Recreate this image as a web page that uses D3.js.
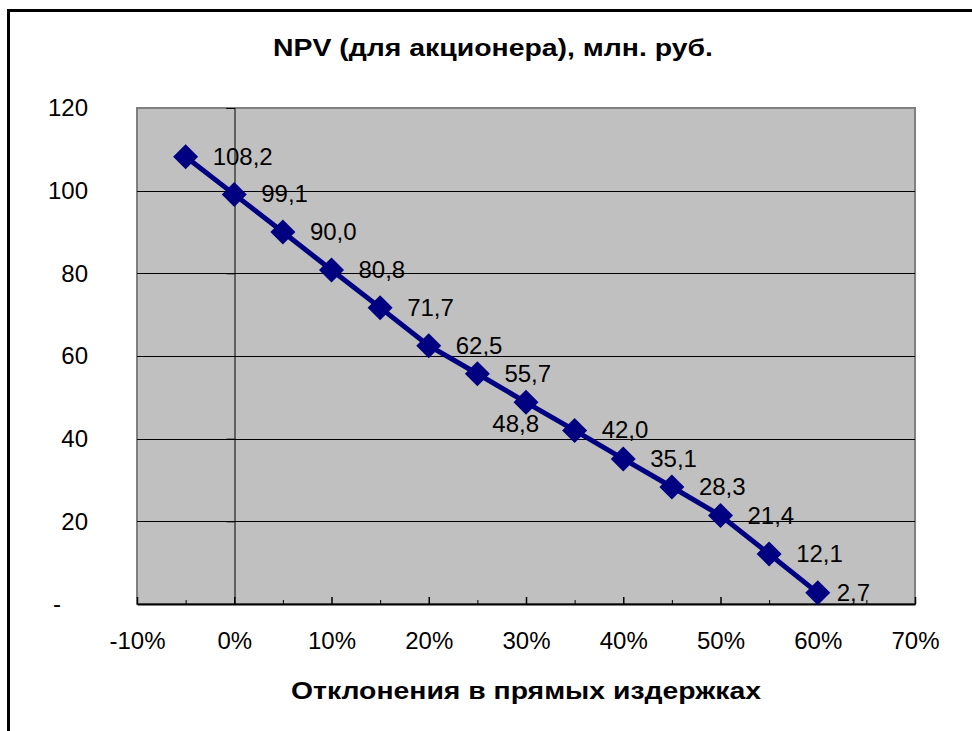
<!DOCTYPE html>
<html>
<head>
<meta charset="utf-8">
<script src="https://cdn.jsdelivr.net/npm/d3@7"></script>
<style>
  body { margin: 0; background: #fff; }
  svg { display: block; font-family: "Liberation Sans", Arial, sans-serif; }
</style>
</head>
<body>
<svg id="chart" width="972" height="731"></svg>
<script>
// Deviation in direct costs (share) and resulting shareholder NPV, mln rub.
const deviations = [-0.05, 0, 0.05, 0.10, 0.15, 0.20, 0.25, 0.30, 0.35, 0.40, 0.45, 0.50, 0.55, 0.60];
const npv = [108.2, 99.1, 90.0, 80.8, 71.7, 62.5, 55.7, 48.8, 42.0, 35.1, 28.3, 21.4, 12.1, 2.7];
const xTicks = [-0.1, 0, 0.1, 0.2, 0.3, 0.4, 0.5, 0.6, 0.7];
const xMinorTicks = [-0.05, 0.05, 0.15, 0.25, 0.35, 0.45, 0.55, 0.65];
const yTicks = [0, 20, 40, 60, 80, 100, 120];
const chartTitle = "NPV (для акционера), млн. руб.";
const xAxisTitle = "Отклонения в прямых издержках";

const svg = d3.select("#chart");
const plot = { left: 137, right: 915, top: 108, bottom: 604 };
const numFont = 24;

const x = d3.scaleLinear().domain([-0.1, 0.7]).range([plot.left, plot.right]);
const y = d3.scaleLinear().domain([0, 120]).range([plot.bottom, plot.top]);

// percent with a plain hyphen for negatives
const fmtPct = v => `${Math.round(v * 100)}%`;
const fmtVal = v => d3.format(".1f")(v).replace(".", ",");

// outer chart frame (runs past the right and bottom edges)
svg.append("rect")
  .attr("x", 8.5).attr("y", 10.5)
  .attr("width", 1000).attr("height", 760)
  .attr("fill", "#fff").attr("stroke", "#000").attr("stroke-width", 3);

// plot area
svg.append("rect")
  .attr("x", plot.left).attr("y", plot.top)
  .attr("width", plot.right - plot.left).attr("height", plot.bottom - plot.top)
  .attr("fill", "#C0C0C0").attr("stroke", "#808080").attr("stroke-width", 2);

// horizontal gridlines
svg.append("g").selectAll("line")
  .data(yTicks.filter(d => d > 0 && d < 120))
  .join("line")
  .attr("x1", plot.left).attr("x2", plot.right)
  .attr("y1", d => Math.round(y(d)) + 0.5).attr("y2", d => Math.round(y(d)) + 0.5)
  .attr("stroke", "#000").attr("stroke-width", 1);

// vertical value axis crossing at 0%
const x0 = Math.round(x(0)) + 0.5;
const yAxisTicks = svg.append("g")
  .attr("transform", `translate(${x0},0)`)
  .call(d3.axisLeft(y).tickValues(yTicks).tickSize(8).tickFormat(""));
yAxisTicks.selectAll("path.domain").attr("stroke", "#000").attr("stroke-width", 1);
yAxisTicks.selectAll(".tick line").attr("stroke", "#000").attr("stroke-width", 1);

// value labels sit at the far left of the chart
const yLabels = svg.append("g")
  .attr("transform", "translate(88,0)")
  .call(d3.axisLeft(y).tickValues(yTicks).tickSize(0).tickPadding(0)
    .tickFormat(d => d === 0 ? "-" : d));
yLabels.select("path.domain").remove();
yLabels.selectAll("text")
  .attr("font-size", numFont).attr("fill", "#000")
  .attr("font-family", "Liberation Sans, Arial, sans-serif")
  .attr("dx", d => d === 0 ? -27 : 0);

// category axis at the bottom
const xAxis = svg.append("g")
  .attr("transform", `translate(0,${plot.bottom})`)
  .call(d3.axisBottom(x).tickValues(xTicks).tickSizeInner(-7).tickSizeOuter(0)
    .tickPadding(28).tickFormat(fmtPct));
xAxis.select("path.domain").attr("stroke", "#000").attr("stroke-width", 2);
xAxis.selectAll(".tick line").attr("stroke", "#000").attr("stroke-width", 1.5);
xAxis.selectAll("text")
  .attr("font-size", numFont).attr("fill", "#000")
  .attr("font-family", "Liberation Sans, Arial, sans-serif");

const xMinor = svg.append("g")
  .attr("transform", `translate(0,${plot.bottom})`)
  .call(d3.axisBottom(x).tickValues(xMinorTicks).tickSizeInner(-4).tickSizeOuter(0).tickFormat(""));
xMinor.select("path.domain").remove();
xMinor.selectAll(".tick line").attr("stroke", "#000").attr("stroke-width", 1);

// series line
const points = deviations.map((d, i) => ({ dev: d, val: npv[i], i }));
svg.append("path")
  .datum(points)
  .attr("fill", "none")
  .attr("stroke", "#000080")
  .attr("stroke-width", 5)
  .attr("stroke-linejoin", "round")
  .attr("d", d3.line().x(d => x(d.dev)).y(d => y(d.val)));

// diamond markers
const r = 12.5;
svg.append("g").selectAll("path")
  .data(points)
  .join("path")
  .attr("d", d => {
    const cx = x(d.dev), cy = y(d.val);
    return `M${cx},${cy - r}L${cx + r},${cy}L${cx},${cy + r}L${cx - r},${cy}Z`;
  })
  .attr("fill", "#000080");

// data labels
const labelPlacement = i => {
  if (npv[i] === 48.8) return { dx: 13, dy: 30, anchor: "end" };
  if (i === npv.length - 1) return { dx: 19, dy: 8, anchor: "start" };
  return { dx: 27, dy: 8, anchor: "start" };
};
svg.append("g").selectAll("text")
  .data(points)
  .join("text")
  .attr("x", d => x(d.dev) + labelPlacement(d.i).dx)
  .attr("y", d => y(d.val) + labelPlacement(d.i).dy)
  .attr("text-anchor", d => labelPlacement(d.i).anchor)
  .attr("font-size", numFont)
  .attr("fill", "#000")
  .text(d => fmtVal(d.val));

// titles
svg.append("text")
  .attr("x", 493).attr("y", 56)
  .attr("text-anchor", "middle")
  .attr("font-size", 23).attr("font-weight", "bold")
  .attr("textLength", 440).attr("lengthAdjust", "spacingAndGlyphs")
  .text(chartTitle);

svg.append("text")
  .attr("x", (plot.left + plot.right) / 2).attr("y", 699)
  .attr("text-anchor", "middle")
  .attr("font-size", 24).attr("font-weight", "bold")
  .attr("textLength", 470).attr("lengthAdjust", "spacingAndGlyphs")
  .text(xAxisTitle);
</script>
</body>
</html>
